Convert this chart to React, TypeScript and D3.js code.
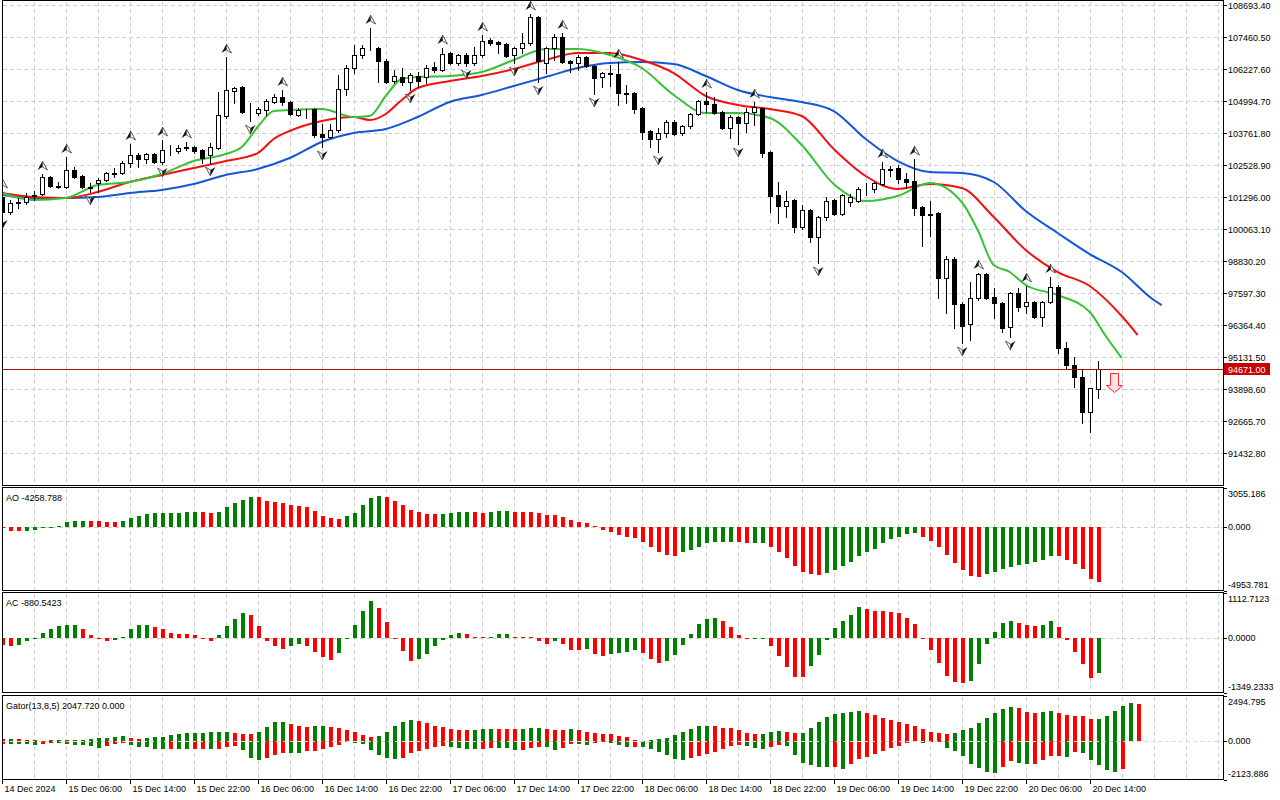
import React, { useRef, useEffect } from 'react';
import * as d3 from 'd3';

// candles, one per hour, 14 Dec 22:00 .. 20 Dec 15:00
const opens = [
  101295, 100718, 101064, 101103, 101353, 101411, 102066, 101720, 101681, 102336,
  102105, 101681, 101835, 101951, 102201, 102220, 102605, 102913, 102759, 102952,
  102644, 103106, 103067, 103203, 103222, 103106, 102913, 103184, 104417, 105379,
  105534, 104571, 104532, 104648, 104956, 105148, 104956, 104455, 104648, 104686,
  103723, 103607, 103877, 105457, 106266, 106766, 107018, 107037, 106535, 105765,
  105919, 105727, 105958, 105919, 106304, 106189, 106843, 106458, 106766, 106458,
  106766, 107345, 107268, 107191, 106766, 107037, 107229, 108231, 106458, 107037,
  107460, 106535, 106458, 106689, 106343, 105919, 106054, 106035, 105302, 105302,
  104725, 103838, 103530, 103761, 104185, 103761, 104031, 104494, 104994, 104879,
  104571, 103954, 104378, 104146, 104571, 104725, 103029, 101372, 100949, 101180,
  100139, 100795, 99754, 100525, 101180, 100641, 101103, 101141, 101585, 101604,
  101797, 102355, 102413, 101989, 101912, 100910, 100641, 100679, 98175, 98906,
  97173, 96402, 97404, 98329, 97442, 97211, 96286, 97597, 97096, 97250,
  96672, 97250, 97828, 95478, 94822, 94360, 93012, 93898,
];
const highs = [
  101488, 101180, 101257, 101449, 101526, 102182, 102105, 101874, 102836, 102451,
  102143, 101835, 102028, 102259, 102413, 102682, 103338, 102990, 102990, 102990,
  103492, 103299, 103299, 103415, 103261, 103145, 103376, 105341, 106689, 105534,
  105573, 104917, 104763, 105071, 105264, 105418, 104994, 104725, 104686, 104725,
  104108, 104108, 105996, 106381, 107152, 107152, 107807, 107075, 106612, 106189,
  106266, 106073, 106112, 106381, 106497, 107037, 106882, 106805, 106843, 107075,
  107537, 107422, 107306, 107229, 107075, 107614, 108347, 108270, 107075, 107576,
  107614, 106574, 106766, 106728, 106381, 106112, 106381, 106497, 105611, 105341,
  104763, 103877, 103954, 104262, 104262, 104069, 104532, 105033, 105341, 105148,
  104609, 104455, 104417, 104725, 104956, 104763, 103067, 101874, 101526, 101218,
  100987, 100833, 100564, 101295, 101218, 101411, 101411, 101681, 101835, 101874,
  102644, 102490, 102528, 102220, 102759, 100949, 101141, 100718, 99022, 98983,
  97250, 98021, 98367, 98367, 97790, 97250, 97635, 97790, 97867, 97289,
  97289, 98213, 97905, 95709, 95130, 94668, 93937, 94976,
];
const lows = [
  100564, 100641, 100872, 101026, 101180, 101372, 101681, 101643, 101643, 102028,
  101643, 101488, 101488, 101912, 102066, 102182, 102451, 102451, 102605, 102605,
  102567, 102913, 102990, 103106, 102990, 102605, 102605, 103145, 104340, 104917,
  104532, 104223, 104455, 104455, 104917, 104840, 104455, 104417, 104340, 103607,
  103222, 103569, 103800, 105225, 106073, 106651, 106959, 105727, 105688, 105688,
  105611, 105418, 105534, 105688, 106112, 106150, 106420, 106381, 106343, 106381,
  106689, 107152, 106843, 106689, 106458, 106843, 107152, 105727, 106073, 106574,
  106458, 106112, 106189, 106304, 105264, 105534, 105573, 104840, 104917, 104532,
  103530, 103222, 103029, 103607, 103684, 103684, 103954, 104455, 104571, 104494,
  103915, 103569, 103338, 103800, 104069, 102836, 100718, 100293, 100525, 99947,
  100062, 99562, 98752, 100409, 100602, 100602, 100949, 101103, 101372, 101488,
  101758, 102105, 101835, 101643, 100602, 99408, 99793, 97404, 96826, 96248,
  95670, 95786, 97327, 97366, 96634, 96094, 95901, 96903, 96826, 96634,
  96325, 97211, 95284, 94707, 93975, 92587, 92241, 93551,
];
const closes = [
  100718, 101064, 101103, 101295, 101372, 102066, 101720, 101681, 102336, 102066,
  101681, 101643, 101951, 102220, 102220, 102605, 102913, 102759, 102952, 102644,
  103106, 103126, 103184, 103222, 103067, 102798, 103222, 104455, 105418, 105496,
  104571, 104552, 104686, 104994, 105148, 104956, 104494, 104648, 104629, 103684,
  103607, 103877, 105457, 106266, 106766, 107037, 107037, 106535, 105727, 105958,
  105727, 105996, 105765, 106266, 106189, 106805, 106458, 106766, 106458, 106766,
  107306, 107229, 107191, 106728, 107037, 107229, 108231, 106535, 107037, 107460,
  106497, 106458, 106689, 106343, 105881, 106073, 106073, 105302, 105264, 104686,
  103800, 103530, 103761, 104185, 103723, 104031, 104494, 104994, 104879, 104532,
  103954, 104378, 104146, 104571, 104763, 102990, 101334, 100949, 101141, 100139,
  100795, 99754, 100525, 101141, 100641, 101372, 101295, 101604, 101604, 101835,
  102374, 102374, 101989, 101874, 100872, 100602, 100621, 98175, 98906, 97173,
  96325, 97404, 98329, 97404, 97211, 96248, 97597, 97057, 97250, 96672,
  97250, 97828, 95478, 94822, 94360, 93012, 93936, 94671,
];

// Alligator lines (bar index, price)
const jawBars = [0, 4, 8, 12, 16, 20, 24, 28, 32, 36, 40, 44, 48, 52, 56, 60, 64, 68, 72, 76, 80, 84, 88, 92, 96, 100, 104, 108, 112, 116, 120, 124, 128, 132, 136, 140, 144, 145];
const jawValues = [101372, 101257, 101257, 101295, 101449, 101565, 101797, 102143, 102374, 102798, 103415, 103761, 103915, 104378, 104956, 105225, 105573, 105919, 106266, 106458, 106497, 106420, 105958, 105418, 105148, 104956, 104609, 103530, 102682, 102259, 102220, 101874, 100756, 99908, 99099, 98406, 97327, 97134];
const teethBars = [0, 4, 8, 12, 16, 20, 24, 28, 32, 34, 36, 40, 44, 46, 48, 50, 52, 56, 60, 64, 68, 72, 76, 80, 84, 88, 92, 96, 100, 104, 108, 112, 116, 120, 124, 128, 132, 136, 140, 142];
const teethValues = [101449, 101295, 101257, 101488, 101874, 102143, 102413, 102682, 102990, 103531, 103838, 104223, 104378, 104262, 104494, 105033, 105495, 105765, 105958, 106227, 106574, 106843, 106843, 106574, 106073, 105187, 104840, 104686, 104417, 103145, 102105, 101604, 101797, 101643, 100525, 99253, 98406, 97866, 96711, 95978];
const lipsBars = [0, 4, 8, 12, 16, 20, 24, 28, 30, 32, 34, 36, 40, 44, 46, 48, 50, 52, 56, 60, 64, 68, 72, 76, 80, 84, 88, 92, 96, 100, 104, 108, 112, 116, 120, 122, 124, 126, 128, 132, 136, 138, 140];
const lipsValues = [101449, 101180, 101257, 101758, 101874, 102182, 102682, 102952, 103222, 103992, 104609, 104648, 104686, 104378, 104417, 105187, 105842, 105919, 105958, 106112, 106574, 106998, 106998, 106766, 106266, 105225, 104532, 104532, 104339, 103299, 101797, 101141, 101334, 101835, 101103, 100024, 98675, 98406, 97905, 97519, 96865, 95940, 95092];

const fractalUp = [0, 5, 8, 16, 20, 23, 28, 35, 46, 55, 60, 66, 70, 77, 88, 94, 110, 114, 122, 128, 131];
const fractalDown = [0, 11, 20, 26, 31, 40, 51, 58, 64, 67, 74, 82, 92, 102, 120, 126];

const aoValues = [
  -39, -296, -319, -303, -257, -132, -47, 23, 335, 428,
  467, 420, 412, 342, 335, 412, 646, 801, 957, 1035,
  1074, 1089, 1105, 1151, 1167, 1113, 1035, 1167, 1502, 1813,
  2101, 2350, 2334, 2023, 1891, 1813, 1712, 1634, 1502, 1245,
  856, 646, 622, 801, 1089, 1688, 2202, 2357, 2280, 2023,
  1712, 1323, 1167, 1019, 1004, 1019, 1089, 1167, 1175, 1159,
  1089, 1167, 1245, 1253, 1167, 1159, 1151, 1089, 934, 926,
  778, 545, 389, 311, 23, -257, -443, -622, -778, -910,
  -1144, -1533, -1922, -2155, -2233, -1999, -1766, -1533, -1299, -1159,
  -1151, -1144, -1221, -1299, -1291, -1284, -1533, -1922, -2388, -3034,
  -3478, -3633, -3734, -3555, -3345, -3034, -2723, -2256, -1922, -1688,
  -1299, -988, -755, -599, -521, -755, -1066, -1533, -2155, -2777,
  -3345, -3812, -3890, -3657, -3501, -3244, -3112, -2956, -2879, -2700,
  -2544, -2256, -2272, -2544, -2855, -3244, -4022, -4258.788,
];
const acValues = [
  -171, -213, -188, -91, -7, 122, 220, 276, 318, 320,
  220, 73, -17, -73, -66, 24, 220, 318, 320, 269,
  220, 122, 98, 95, 73, -17, -73, 56, 294, 465,
  612, 563, 294, -73, -213, -269, -213, -164, -213, -342,
  -482, -538, -367, -24, 318, 660, 905, 741, 391, -17,
  -325, -570, -531, -408, -203, -56, 56, 105, 81, 24,
  5, 24, 81, 83, 24, 7, 5, -81, -164, -81,
  -164, -301, -303, -286, -408, -457, -408, -384, -350, -301,
  -384, -531, -629, -570, -423, -188, 81, 325, 448, 497,
  399, 252, 56, -29, -24, -7, -203, -448, -717, -961,
  -964, -692, -423, -56, 227, 423, 570, 766, 717, 668,
  665, 643, 619, 497, 325, -24, -301, -619, -937, -1084,
  -1108, -1059, -643, -154, 130, 374, 423, 350, 301, 298,
  301, 423, 252, -61, -355, -653, -991, -880.5423,
];
const gatorUpper = [
  83, 94, 88, 39, 28, 17, 55, 61, 44, 50,
  55, 94, 149, 182, 238, 243, 182, 127, 133, 204,
  238, 348, 403, 409, 414, 459, 464, 470, 514, 459,
  403, 398, 514, 774, 1011, 1017, 939, 829, 774, 829,
  834, 774, 718, 608, 514, 348, 238, 293, 514, 829,
  1050, 1160, 1105, 995, 829, 774, 663, 608, 602, 608,
  663, 669, 663, 657, 652, 663, 718, 724, 663, 608,
  602, 663, 608, 497, 442, 387, 381, 276, 221, 55,
  11, 55, 83, 166, 332, 497, 663, 829, 834, 829,
  718, 713, 608, 442, 387, 392, 497, 553, 497, 442,
  448, 718, 1050, 1326, 1492, 1547, 1602, 1658, 1547, 1437,
  1271, 1160, 1050, 939, 829, 663, 497, 442, 387, 442,
  608, 718, 995, 1271, 1547, 1768, 1879, 1823, 1602, 1547,
  1602, 1658, 1547, 1437, 1381, 1376, 1216, 1221, 1381, 1658,
  1934, 2100, 2047.72,
];
const gatorLower = [
  -166, -182, -188, -193, -238, -182, -111, -116, -155, -238,
  -243, -293, -403, -293, -182, -127, -221, -348, -354, -459,
  -464, -459, -464, -470, -464, -459, -464, -459, -348, -293,
  -514, -956, -1066, -956, -790, -680, -685, -691, -569, -564,
  -459, -348, -238, -55, -111, -166, -514, -790, -956, -1011,
  -923, -663, -553, -442, -332, -276, -332, -387, -442, -448,
  -442, -387, -392, -398, -497, -492, -387, -332, -337, -497,
  -387, -166, -171, -221, -111, -55, -111, -221, -332, -326,
  -332, -442, -608, -774, -995, -1050, -939, -829, -718, -608,
  -442, -276, -221, -276, -387, -442, -332, -221, -276, -774,
  -1216, -1326, -1437, -1442, -1431, -1547, -1271, -995, -884, -718,
  -553, -387, -276, -111, -39, -111, -39, -17, -387, -553,
  -829, -1271, -1492, -1713, -1768, -1437, -1133, -1199, -1254, -1249,
  -1050, -856, -829, -884, -608, -663, -1050, -1326, -1602, -1713,
  -1547,
];

const priceTicks = [108693.4, 107460.5, 106227.6, 104994.7, 103761.8, 102528.9, 101296.0, 100063.1, 98830.2, 97597.3, 96364.4, 95131.5, 93898.6, 92665.7, 91432.8];
const aoRange = [-4953.781, 3055.186];
const acRange = [-1349.2333, 1112.7123];
const gatorRange = [-2123.886, 2494.795];
const timeLabels = ['14 Dec 2024', '15 Dec 06:00', '15 Dec 14:00', '15 Dec 22:00', '16 Dec 06:00', '16 Dec 14:00', '16 Dec 22:00', '17 Dec 06:00', '17 Dec 14:00', '17 Dec 22:00', '18 Dec 06:00', '18 Dec 14:00', '18 Dec 22:00', '19 Dec 06:00', '19 Dec 14:00', '19 Dec 22:00', '20 Dec 06:00', '20 Dec 14:00'];
const lastPrice = 94671.0;
const sellSignal = { bar: 139, price: 94514 };

const GREEN = '#008000';
const RED = '#ff0000';

const App = () => {
  const svgRef = useRef<SVGSVGElement>(null);

  useEffect(() => {
    const svg = d3.select(svgRef.current);
    svg.selectAll('*').remove();

    const font = "'Liberation Sans', Arial, sans-serif";
    const left = 2.5;
    const right = 1223.5;
    const panes = {
      main: [0.5, 485.5],
      ao: [487.5, 590.5],
      ac: [592.5, 692.5],
      gator: [695.5, 779.5],
    };

    const x = d3.scaleLinear().domain([0, 137]).range([1.7, 1097.7]);
    const px = (i: number) => Math.round(x(i));
    const y = d3.scaleLinear().domain([priceTicks[priceTicks.length - 1], priceTicks[0]]).range([453, 5]);
    const yAO = d3.scaleLinear().domain(aoRange).range([panes.ao[1], panes.ao[0]]);
    const yAC = d3.scaleLinear().domain(acRange).range([panes.ac[1], panes.ac[0]]);
    const yG = d3.scaleLinear().domain(gatorRange).range([panes.gator[1], panes.gator[0]]);

    svg.append('rect').attr('width', 1280).attr('height', 800).attr('fill', '#fff');

    const defs = svg.append('defs');
    Object.entries(panes).forEach(([k, [t, b]]) => {
      defs.append('clipPath').attr('id', `clip-${k}`)
        .append('rect').attr('x', left).attr('y', t).attr('width', right - left).attr('height', b - t);
    });

    // grid
    const grid = svg.append('g').attr('stroke', '#cfcfcf').attr('stroke-dasharray', '4,3').attr('shape-rendering', 'crispEdges');
    Object.values(panes).forEach(([t, b]) => {
      for (let k = 1; px(4 * k) < right - 2; k++) {
        const gx = px(4 * k) + 0.5;
        grid.append('line').attr('x1', gx).attr('x2', gx).attr('y1', t + 1).attr('y2', b - 1);
      }
    });
    priceTicks.forEach(p => {
      const gy = Math.round(y(p)) + 0.5;
      grid.append('line').attr('x1', left).attr('x2', right).attr('y1', gy).attr('y2', gy);
    });
    [[yAO, 'ao'], [yAC, 'ac']].forEach(([sc]: any) => {
      const gy = Math.round(sc(0)) + 0.5;
      grid.append('line').attr('x1', left).attr('x2', right).attr('y1', gy).attr('y2', gy);
    });

    // main pane
    const main = svg.append('g').attr('clip-path', 'url(#clip-main)');

    const line = d3.line<[number, number]>().x(d => x(d[0])).y(d => y(d[1])).curve(d3.curveMonotoneX);
    const alligator: [number[], number[], string][] = [
      [jawBars, jawValues, '#1257d8'],
      [teethBars, teethValues, '#f50f0f'],
      [lipsBars, lipsValues, '#35c335'],
    ];
    alligator.forEach(([bars, vals, color]) => {
      main.append('path')
        .attr('d', line(bars.map((b, i) => [b, vals[i]] as [number, number])))
        .attr('fill', 'none').attr('stroke', color).attr('stroke-width', 2);
    });

    const candles = main.append('g').attr('shape-rendering', 'crispEdges');
    opens.forEach((o, i) => {
      const c = closes[i];
      const cx = px(i);
      candles.append('line')
        .attr('x1', cx + 0.5).attr('x2', cx + 0.5)
        .attr('y1', Math.round(y(highs[i]))).attr('y2', Math.round(y(lows[i])) + 1)
        .attr('stroke', '#000');
      const top = Math.round(y(Math.max(o, c)));
      const bot = Math.round(y(Math.min(o, c)));
      candles.append('rect')
        .attr('x', cx - 1.5).attr('y', top + 0.5)
        .attr('width', 4).attr('height', Math.max(0, bot - top))
        .attr('fill', c >= o ? '#fff' : '#000').attr('stroke', '#000');
    });

    // fractals
    const frac = main.append('g');
    fractalUp.forEach(i => {
      const g = frac.append('g').attr('transform', `translate(${px(i) + 0.5},${y(highs[i]) - 8})`);
      g.append('path').attr('d', 'M0,-5L-5,4L0,1Z').attr('fill', '#161616');
      g.append('path').attr('d', 'M0,-5L5,4L0,1Z').attr('fill', '#f4f4f4').attr('stroke', '#3a3a3a').attr('stroke-width', 0.8);
    });
    fractalDown.forEach(i => {
      const g = frac.append('g').attr('transform', `translate(${px(i) + 0.5},${y(lows[i]) + 8})`);
      g.append('path').attr('d', 'M0,5L5,-4L0,-1Z').attr('fill', '#161616');
      g.append('path').attr('d', 'M0,5L-5,-4L0,-1Z').attr('fill', '#f4f4f4').attr('stroke', '#3a3a3a').attr('stroke-width', 0.8);
    });

    // last price line
    const ly = Math.round(y(lastPrice)) + 0.5;
    svg.append('line').attr('x1', left).attr('x2', right).attr('y1', ly).attr('y2', ly)
      .attr('stroke', '#a01414').attr('shape-rendering', 'crispEdges');

    // sell arrow
    svg.append('path')
      .attr('transform', `translate(${px(sellSignal.bar) + 0.5},${Math.round(y(sellSignal.price)) + 0.5})`)
      .attr('d', 'M-4,0H4V12H8L0,19L-8,12H-4Z')
      .attr('fill', '#ffe2e2').attr('stroke', '#ff2a2a').attr('stroke-width', 1);

    // histograms
    const histogram = (id: string, vals: number[], sc: d3.ScaleLinear<number, number>, mag: boolean) => {
      const g = svg.append('g').attr('clip-path', `url(#clip-${id})`).attr('shape-rendering', 'crispEdges');
      const z = Math.round(sc(0));
      vals.forEach((v, i) => {
        const prev = i > 0 ? vals[i - 1] : Infinity;
        const up = mag ? Math.abs(v) > Math.abs(prev) : v > prev;
        const vy = Math.round(sc(v));
        g.append('rect')
          .attr('x', px(i) - 1).attr('width', 4)
          .attr('y', Math.min(vy, z)).attr('height', Math.max(1, Math.abs(vy - z)))
          .attr('fill', up ? GREEN : RED);
      });
    };
    histogram('ao', aoValues, yAO, false);
    histogram('ac', acValues, yAC, false);
    histogram('gator', gatorUpper, yG, true);
    histogram('gator', gatorLower, yG, true);
    const gz = Math.round(yG(0)) + 0.5;
    svg.append('line').attr('x1', left).attr('x2', right).attr('y1', gz).attr('y2', gz)
      .attr('stroke', '#dcdcdc').attr('stroke-dasharray', '4,3').attr('shape-rendering', 'crispEdges');

    // pane borders
    Object.values(panes).forEach(([t, b]) => {
      svg.append('rect').attr('x', left).attr('y', t).attr('width', right - left).attr('height', b - t)
        .attr('fill', 'none').attr('stroke', '#000').attr('shape-rendering', 'crispEdges');
    });

    const txt = (gx: number, gy: number, s: string, fill = '#000') =>
      svg.append('text').attr('x', gx).attr('y', gy).attr('dy', '0.35em')
        .attr('font-family', font).attr('font-size', 9).attr('fill', fill).text(s);

    const tick = (gy: number) =>
      svg.append('line').attr('x1', right).attr('x2', right + 3).attr('y1', gy).attr('y2', gy)
        .attr('stroke', '#000').attr('shape-rendering', 'crispEdges');

    // price axis
    priceTicks.forEach(p => {
      const gy = Math.round(y(p)) + 0.5;
      tick(gy);
      txt(1228, gy, p.toFixed(2));
    });
    svg.append('rect').attr('x', 1224).attr('y', ly - 6.5).attr('width', 46).attr('height', 12).attr('fill', '#c80000');
    txt(1228, ly, lastPrice.toFixed(2), '#fff');

    // oscillator axes
    const oscAxis = (range: number[], sc: d3.ScaleLinear<number, number>, pane: number[], digits: number) => {
      [range[1], 0, range[0]].forEach((v, k) => {
        const gy = Math.round(sc(v)) + 0.5;
        tick(gy);
        const ty = k === 0 ? pane[0] + 6 : k === 2 ? pane[1] - 6 : gy - 1;
        txt(1228, ty, v.toFixed(digits));
      });
    };
    oscAxis(aoRange, yAO, panes.ao, 3);
    oscAxis(acRange, yAC, panes.ac, 4);
    oscAxis(gatorRange, yG, panes.gator, 3);

    txt(6, panes.ao[0] + 10, `AO ${aoValues[aoValues.length - 1].toFixed(3)}`);
    txt(6, panes.ac[0] + 10, `AC ${acValues[acValues.length - 1].toFixed(4)}`);
    txt(6, panes.gator[0] + 10, `Gator(13,8,5) ${gatorUpper[gatorUpper.length - 1].toFixed(3)} 0.000`);

    // time axis
    timeLabels.forEach((s, k) => {
      const gx = px(8 * k) + 0.5;
      svg.append('line').attr('x1', gx).attr('x2', gx).attr('y1', panes.gator[1]).attr('y2', panes.gator[1] + 4)
        .attr('stroke', '#000').attr('shape-rendering', 'crispEdges');
      txt(gx + 2, 789, s);
    });
  }, []);

  return (
    <svg ref={svgRef} width={1280} height={800}
      style={{ position: 'absolute', left: 0, top: 0, background: '#fff' }} />
  );
};

export default App;
